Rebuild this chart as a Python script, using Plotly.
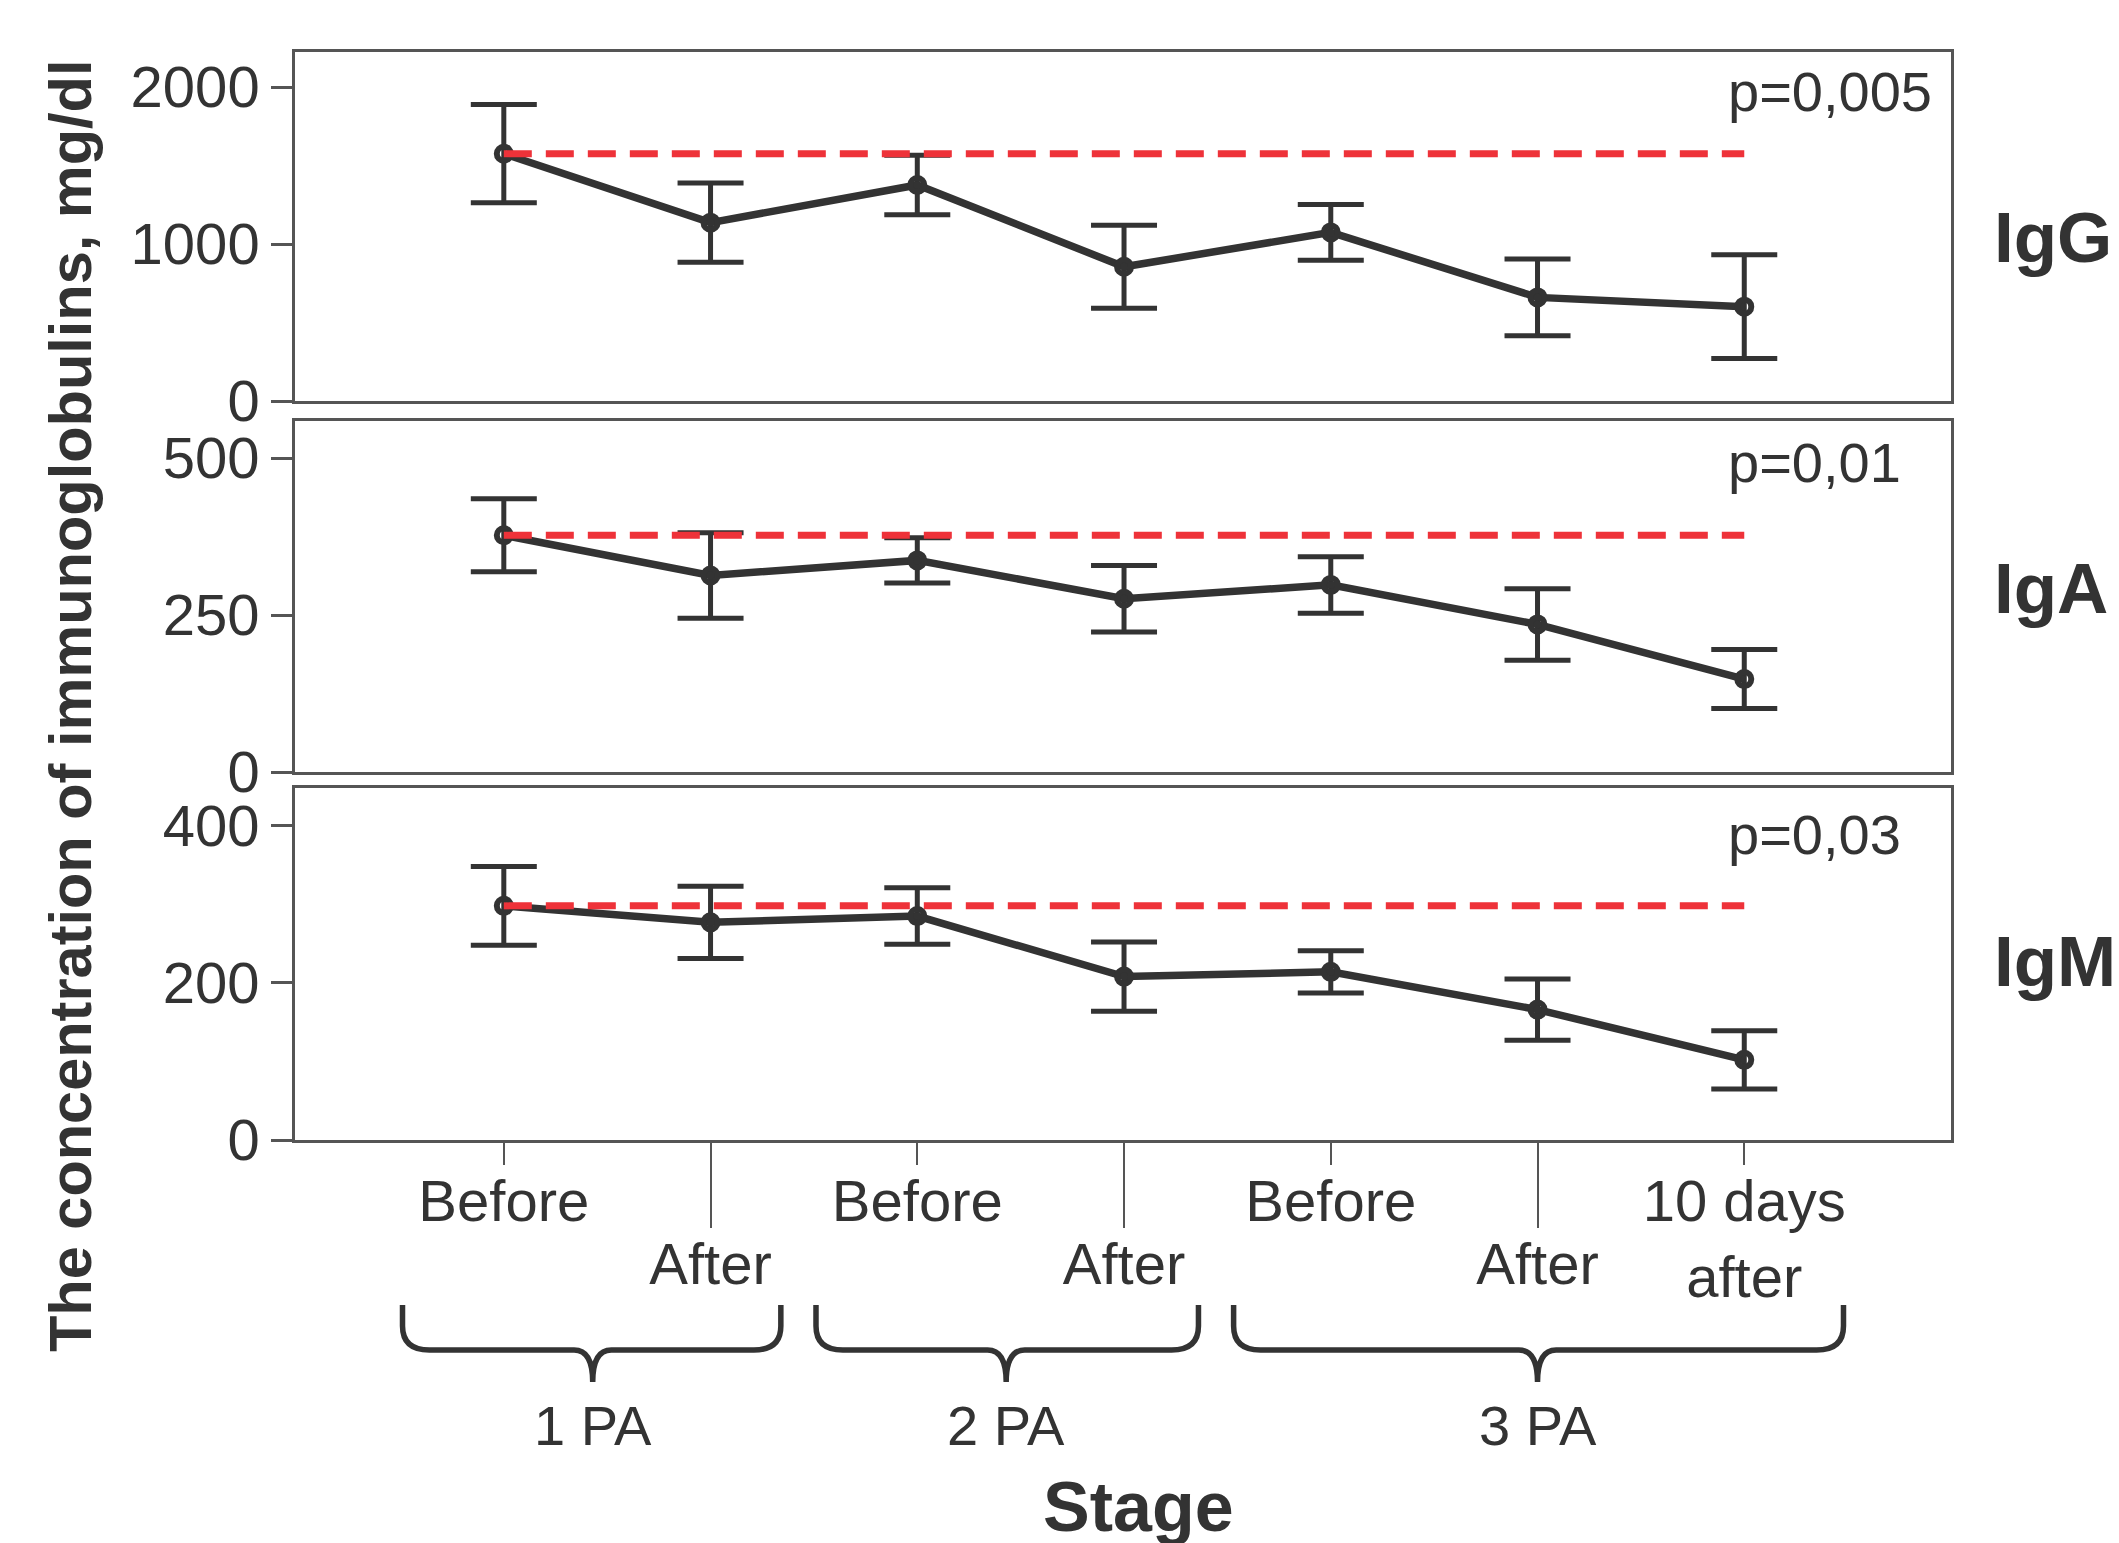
import plotly.graph_objects as go

# ---------------- data ----------------
stage_idx = [0, 1, 2, 3, 4, 5, 6]
before_idx = [0, 2, 4, 6]
before_labels = ["Before", "Before", "Before", "10 days<br>after"]
after_idx = [1, 3, 5]
after_labels = ["After", "After", "After"]

igg_mean = [1575, 1136, 1376, 855, 1074, 660, 601]
igg_err = [313, 252, 190, 264, 178, 245, 331]
iga_mean = [377, 313, 337, 276, 298, 235, 148]
iga_err = [58, 68, 36, 53, 45, 57, 47]
igm_mean = [298, 277, 285, 208, 214, 166, 102]
igm_err = [50, 46, 36, 44, 27, 39, 37]

panel_names = ["IgG", "IgA", "IgM"]
p_values = ["p=0,005", "p=0,01", "p=0,03"]
y_tickvals = [[0, 1000, 2000], [0, 250, 500], [0, 200, 400]]
y_ranges = [[0, 2223], [0, 559], [0, 448]]
group_labels = ["1 PA", "2 PA", "3 PA"]

means = [igg_mean, iga_mean, igm_mean]
errs = [igg_err, iga_err, igm_err]

# ---------------- layout constants ----------------
W, H = 2119, 1543
L, R, T, B = 295, 168, 52, 403
PH = H - T - B
FONT = "Liberation Sans, Arial, sans-serif"
DARK = "#333333"
AXC = "#555555"
RED = "#EE3239"

def py(p):
    return 1 - (p - T) / PH

def px(p):
    return (p - L) / (W - L - R)

panel_px = [(52, 401), (421, 772), (788, 1140)]
x_range = [-1.01, 7.0]
brace_geom = [(-0.49, 1.34, 0.43), (1.51, 3.36, 2.43), (3.53, 6.48, 5.0)]

fig = go.Figure()

for i in range(3):
    xa = "x" if i == 0 else f"x{i+1}"
    ya = "y" if i == 0 else f"y{i+1}"
    fig.add_trace(go.Scatter(
        x=stage_idx, y=means[i], xaxis=xa, yaxis=ya, mode="lines+markers",
        line=dict(color=DARK, width=7.5),
        marker=dict(symbol="circle-open", size=14, color=DARK, line=dict(width=6, color=DARK)),
        error_y=dict(type="data", array=errs[i], color=DARK, thickness=5, width=33),
        showlegend=False, hoverinfo="skip"))
    fig.add_trace(go.Scatter(
        x=[stage_idx[0], stage_idx[-1]], y=[means[i][0], means[i][0]],
        xaxis=xa, yaxis=ya, mode="lines",
        line=dict(color=RED, width=7, dash="28px,14px"),
        showlegend=False, hoverinfo="skip"))

# dummy trace to register overlay axis
fig.add_trace(go.Scatter(x=[None], y=[None], xaxis="x4", yaxis="y3", showlegend=False, hoverinfo="skip"))

axis_common = dict(showline=True, linecolor=AXC, linewidth=2.5, mirror=True,
                   showgrid=False, zeroline=False)

layout = dict(width=W, height=H, margin=dict(l=L, r=R, t=T, b=B),
              paper_bgcolor="white", plot_bgcolor="white",
              font=dict(family=FONT, color=DARK, size=58))

for i in range(3):
    top, bot = panel_px[i]
    sfx = "" if i == 0 else str(i + 1)
    layout["yaxis" + sfx] = dict(
        domain=[py(bot), py(top)], range=y_ranges[i], tickvals=y_tickvals[i],
        ticks="outside", ticklen=21, tickwidth=2.5, tickcolor=AXC,
        tickfont=dict(size=58, color=DARK, family=FONT),
        anchor="x" + sfx, **axis_common)
    xdict = dict(range=x_range, anchor="y" + sfx, **axis_common)
    if i < 2:
        xdict.update(showticklabels=False, ticks="")
    else:
        xdict.update(tickmode="array", tickvals=before_idx, ticktext=before_labels,
                     ticks="outside", ticklen=22, tickwidth=2, tickcolor=AXC,
                     ticklabelstandoff=-13,
                     tickfont=dict(size=58, color=DARK, family=FONT))
    layout["xaxis" + sfx] = xdict

layout["xaxis4"] = dict(range=x_range, overlaying="x3", anchor="y3", side="bottom",
                        tickmode="array", tickvals=after_idx, ticktext=after_labels,
                        ticks="outside", ticklen=87, tickwidth=2, tickcolor=AXC,
                        ticklabelstandoff=-14,
                        tickfont=dict(size=58, color=DARK, family=FONT),
                        showline=False, showgrid=False, zeroline=False)

annotations = []
p_centers = [92, 462, 834]
name_centers = [238, 588, 961]
for i in range(3):
    annotations.append(dict(text=p_values[i], x=px(1726), y=py(p_centers[i]),
                            xref="paper", yref="paper", xanchor="left", yanchor="middle",
                            showarrow=False, font=dict(size=56, color=DARK, family=FONT)))
    annotations.append(dict(text=f"<b>{panel_names[i]}</b>", x=px(1992), y=py(name_centers[i]),
                            xref="paper", yref="paper", xanchor="left", yanchor="middle",
                            showarrow=False, font=dict(size=71, color=DARK, family=FONT)))

annotations.append(dict(text="<b>The concentration of immunoglobulins, mg/dl</b>",
                        x=px(70), y=py(706), xref="paper", yref="paper",
                        xanchor="center", yanchor="middle", textangle=-90, showarrow=False,
                        font=dict(size=59.5, color=DARK, family=FONT)))
annotations.append(dict(text="<b>Stage</b>", x=px(1138), y=py(1507), xref="paper", yref="paper",
                        xanchor="center", yanchor="middle", showarrow=False,
                        font=dict(size=70, color=DARK, family=FONT)))

shapes = []
yT, yC, yM, yTip = py(1305), py(1326), py(1350), py(1382)
r, r2 = 0.13, 0.09
for (xl, xr, xc), lab in zip(brace_geom, group_labels):
    path = (f"M {xl},{yT} L {xl},{yC} Q {xl},{yM} {xl + r},{yM} "
            f"L {xc - r2},{yM} Q {xc},{yM} {xc},{yTip} "
            f"Q {xc},{yM} {xc + r2},{yM} L {xr - r},{yM} "
            f"Q {xr},{yM} {xr},{yC} L {xr},{yT}")
    shapes.append(dict(type="path", path=path, xref="x3", yref="paper",
                       line=dict(color=DARK, width=5.5)))
    annotations.append(dict(text=lab, x=xc, y=py(1425), xref="x3", yref="paper",
                            xanchor="center", yanchor="middle", showarrow=False,
                            font=dict(size=56, color=DARK, family=FONT)))

layout["annotations"] = annotations
layout["shapes"] = shapes
fig.update_layout(**layout)

fig.write_html("out.html")
